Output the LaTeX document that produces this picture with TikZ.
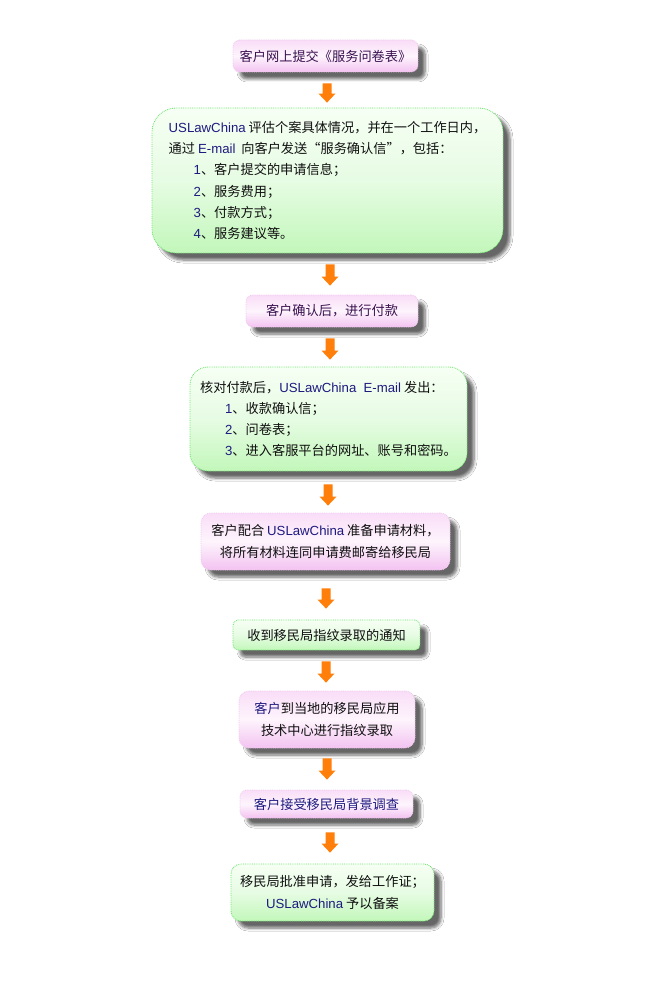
\documentclass[tikz,border=0pt]{standalone}
\usepackage{fontspec}
\setmainfont{Noto Sans CJK SC}
\newfontfamily\lat{Liberation Sans}
\usetikzlibrary{shadows.blur,calc}
\definecolor{pinkT}{HTML}{F9DDF7}
\definecolor{pinkB}{HTML}{F3C2F1}
\definecolor{pinkE}{HTML}{F0C8EE}
\definecolor{greenT}{HTML}{F6FFF4}
\definecolor{greenB}{HTML}{C2F7BA}
\definecolor{greenE}{HTML}{66E666}
\definecolor{navy}{HTML}{1E1A80}
\definecolor{purp}{HTML}{3A1050}
\definecolor{dark}{HTML}{101010}
\definecolor{arr}{HTML}{FF7F0A}
\newcommand{\U}[1]{{\lat\color{navy}#1}}
\tikzset{
  x=1pt,y=-1pt,
  base/.style={draw, densely dotted, line width=0.8pt, align=left, inner sep=0pt,
    font=\fontsize{13.2}{21.3}\selectfont, text=dark,
    blur shadow={shadow xshift=7pt, shadow yshift=-7pt, shadow blur radius=3pt, shadow blur steps=6, shadow opacity=60}},
  pinkbox/.style={base, draw=pinkE, top color=pinkT, bottom color=pinkB, middle color=white!70!pinkT, rounded corners=7pt},
  greenbox/.style={base, draw=greenE, top color=greenT, bottom color=greenB, middle color=white!60!greenB, rounded corners=7pt}
}
\begin{document}
\begin{tikzpicture}
\useasboundingbox[fill=white] (0,0) rectangle (660,1000);

\node[pinkbox, minimum width=185, minimum height=32, text=purp] (b1) at (325.5,56) {客户网上提交《服务问卷表》};

\node[greenbox, rounded corners=24pt, minimum width=351, minimum height=145] (b2) at (327.5,180.5)
{\U{USLawChina} 评估个案具体情况，并在一个工作日内，\\
通过 \U{E-mail} \ 向客户发送“服务确认信”，包括：\\
\hspace*{25pt}\U{1}、客户提交的申请信息；\\
\hspace*{25pt}\U{2}、服务费用；\\
\hspace*{25pt}\U{3}、付款方式；\\
\hspace*{25pt}\U{4}、服务建议等。};

\node[pinkbox, minimum width=172, minimum height=32, text=purp] (b3) at (332,311) {客户确认后，进行付款};

\node[greenbox, rounded corners=18pt, minimum width=277, minimum height=104] (b4) at (328.5,419)
{核对付款后，\U{USLawChina \ E-mail} 发出：\\
\hspace*{25pt}\U{1}、收款确认信；\\
\hspace*{25pt}\U{2}、问卷表；\\
\hspace*{25pt}\U{3}、进入客服平台的网址、账号和密码。};

\node[pinkbox, rounded corners=10pt, minimum width=249, minimum height=57, align=center] (b5) at (325.5,541.5)
{客户配合 \U{USLawChina} 准备申请材料，\\将所有材料连同申请费邮寄给移民局};

\node[greenbox, rounded corners=5pt, minimum width=187, minimum height=30] (b6) at (326.5,635) {收到移民局指纹录取的通知};

\node[pinkbox, rounded corners=10pt, minimum width=176, minimum height=57, align=center] (b7) at (327,719.5)
{{\color{navy}客户}到当地的移民局应用\\技术中心进行指纹录取};

\node[pinkbox, minimum width=173, minimum height=28, text=navy] (b8) at (326.5,804) {客户接受移民局背景调查};

\node[greenbox, rounded corners=10pt, minimum width=203, minimum height=57, align=center] (b9) at (332.5,892.5)
{移民局批准申请，发给工作证；\\\U{USLawChina} 予以备案};

% block arrows from box to box: source, target, x, gap below source, gap above target
\foreach \a/\b/\xx/\ga/\gb in {b1/b2/327/11/5, b2/b3/330/11/9, b3/b4/330/11/7, b4/b5/328/13/7, b5/b6/326/18/11, b6/b7/326/11/8, b7/b8/327/10/10, b8/b9/330/14/11}{
  \coordinate (\a-s) at ($(\xx,0 |- \a.south)+(0,\ga)$);
  \coordinate (\a-e) at ($(\xx,0 |- \b.north)+(0,-\gb)$);
  \fill[arr] ($(\a-s)+(-4.5,0)$) -- ($(\a-s)+(4.5,0)$) -- ($(\a-e)+(4.5,-9)$) -- ($(\a-e)+(8.5,-9)$)
     -- (\a-e) -- ($(\a-e)+(-8.5,-9)$) -- ($(\a-e)+(-4.5,-9)$) -- cycle;
}
\end{tikzpicture}
\end{document}
